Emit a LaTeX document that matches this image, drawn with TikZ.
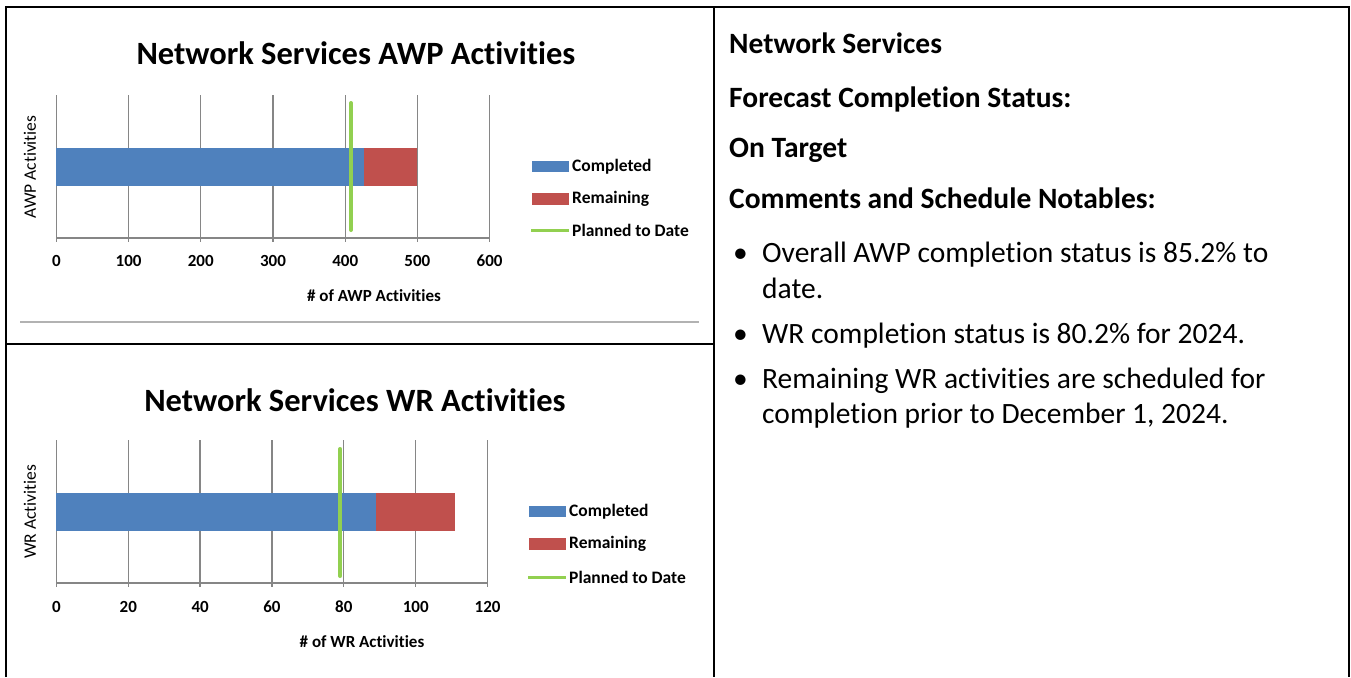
\documentclass[tikz,border=0pt]{standalone}
\usepackage{fontspec}
\setmainfont{Carlito}[Ligatures=NoCommon]
\usetikzlibrary{calc}
\definecolor{BarBlue}{RGB}{79,129,189}
\definecolor{BarRed}{RGB}{192,80,77}
\definecolor{PlanGreen}{RGB}{146,208,80}
\definecolor{GridGray}{RGB}{134,134,134}

\begin{document}
\begin{tikzpicture}[x=1pt,y=-1pt,
  gridline/.style={draw=GridGray,line width=1.3pt},
  planline/.style={draw=PlanGreen,line width=4pt,line cap=round},
  charttitle/.style={inner sep=0pt,font=\fontsize{32.5}{36}\selectfont\bfseries},
  ticklbl/.style={inner sep=0pt,font=\fontsize{17}{20}\selectfont\bfseries},
  axistitle/.style={inner sep=0pt,font=\fontsize{17}{20}\selectfont\bfseries},
  ylbl/.style={inner sep=0pt,rotate=90,font=\fontsize{17.5}{20}\selectfont},
  legtxt/.style={anchor=west,inner sep=0pt,font=\fontsize{17.5}{20}\selectfont\bfseries},
  headtxt/.style={anchor=base west,inner sep=0pt,font=\fontsize{29.5}{33}\selectfont\bfseries},
  bodytxt/.style={anchor=base west,inner sep=0pt,font=\fontsize{29.5}{33}\selectfont}]
\useasboundingbox (0,0) rectangle (1351,677);

% table frame
\draw[line width=2pt] (6,677) -- (6,7) -- (1349,7) -- (1349,677);
\draw[line width=2pt] (714,7) -- (714,677);
\draw[line width=2pt] (6,344) -- (714,344);
\draw[line width=2.5pt,black!30] (20,322) -- (699,322);

% AWP chart, one unit = one activity
\node[charttitle] (awptitle) at (356,53) {Network Services AWP Activities};
\node[ylbl] (awpylbl) at (30,167) {AWP Activities};
\begin{scope}[xshift=56.4pt,x=0.722pt]
\draw[gridline] (0,95) -- (0,242);
\draw[gridline] (100,95) -- (100,242);
\draw[gridline] (200,95) -- (200,242);
\draw[gridline] (300,95) -- (300,242);
\draw[gridline] (400,95) -- (400,242);
\draw[gridline] (500,95) -- (500,242);
\draw[gridline] (600,95) -- (600,242);
\draw[gridline] (0,238) -- (600,238);

\fill[BarBlue] (0,148) rectangle (426,186);
\fill[BarRed] (426,148) rectangle (500,186);
\draw[planline] (408,103) -- (408,230);

\node[ticklbl] (awp0) at (0,261) {0};
\node[ticklbl] (awp100) at (100,261) {100};
\node[ticklbl] (awp200) at (200,261) {200};
\node[ticklbl] (awp300) at (300,261) {300};
\node[ticklbl] (awp400) at (400,261) {400};
\node[ticklbl] (awp500) at (500,261) {500};
\node[ticklbl] (awp600) at (600,261) {600};
\end{scope}
\node[axistitle] (awpxlbl) at (374,296) {\# of AWP Activities};

\fill[BarBlue] (532,161) rectangle (569,172);
\node[legtxt] (awpleg1) at (572,167) {Completed};
\fill[BarRed] (532,193) rectangle (569,205);
\node[legtxt] (awpleg2) at (572,199) {Remaining};
\draw[PlanGreen,line width=3pt] (531,230) -- (569,230);
\node[legtxt] (awpleg3) at (572,230) {Planned to Date};

% WR chart
\node[charttitle] (wrtitle) at (355,400) {Network Services WR Activities};
\node[ylbl] (wrylbl) at (30,512) {WR Activities};
\begin{scope}[xshift=56.4pt,x=3.593pt]
\draw[gridline] (0,440) -- (0,587);
\draw[gridline] (20,440) -- (20,587);
\draw[gridline] (40,440) -- (40,587);
\draw[gridline] (60,440) -- (60,587);
\draw[gridline] (80,440) -- (80,587);
\draw[gridline] (100,440) -- (100,587);
\draw[gridline] (120,440) -- (120,587);
\draw[gridline] (0,583) -- (120,583);

\fill[BarBlue] (0,493) rectangle (89,531);
\fill[BarRed] (89,493) rectangle (111,531);
\draw[planline] (79,449) -- (79,576);

\node[ticklbl] (wr0) at (0,607) {0};
\node[ticklbl] (wr20) at (20,607) {20};
\node[ticklbl] (wr40) at (40,607) {40};
\node[ticklbl] (wr60) at (60,607) {60};
\node[ticklbl] (wr80) at (80,607) {80};
\node[ticklbl] (wr100) at (100,607) {100};
\node[ticklbl] (wr120) at (120,607) {120};
\end{scope}
\node[axistitle] (wrxlbl) at (362,642) {\# of WR Activities};

\fill[BarBlue] (529,506) rectangle (566,517);
\node[legtxt] (wrleg1) at (569,512) {Completed};
\fill[BarRed] (529,538) rectangle (566,550);
\node[legtxt] (wrleg2) at (569,544) {Remaining};
\draw[PlanGreen,line width=3pt] (528,577) -- (566,577);
\node[legtxt] (wrleg3) at (569,577) {Planned to Date};

% status text
\node[headtxt] (hdr) at (729,53) {Network Services};
\node[headtxt] (fcst) at (729,107) {Forecast Completion Status:};
\node[headtxt] (ontgt) at (729,157) {On Target};
\node[headtxt] (cmts) at (729,208) {Comments and Schedule Notables:};

\node[bodytxt] (dot1) at (733,262) {\textbullet};
\node[bodytxt] (note1a) at (762,262) {Overall AWP completion status is 85.2\% to};
\node[bodytxt] (note1b) at (762,298) {date.};
\node[bodytxt] (dot2) at (733,343) {\textbullet};
\node[bodytxt] (note2) at (762,343) {WR completion status is 80.2\% for 2024.};
\node[bodytxt] (dot3) at (733,388) {\textbullet};
\node[bodytxt] (note3a) at (762,388) {Remaining WR activities are scheduled for};
\node[bodytxt] (note3b) at (762,423) {completion prior to December 1, 2024.};

\end{tikzpicture}
\end{document}
